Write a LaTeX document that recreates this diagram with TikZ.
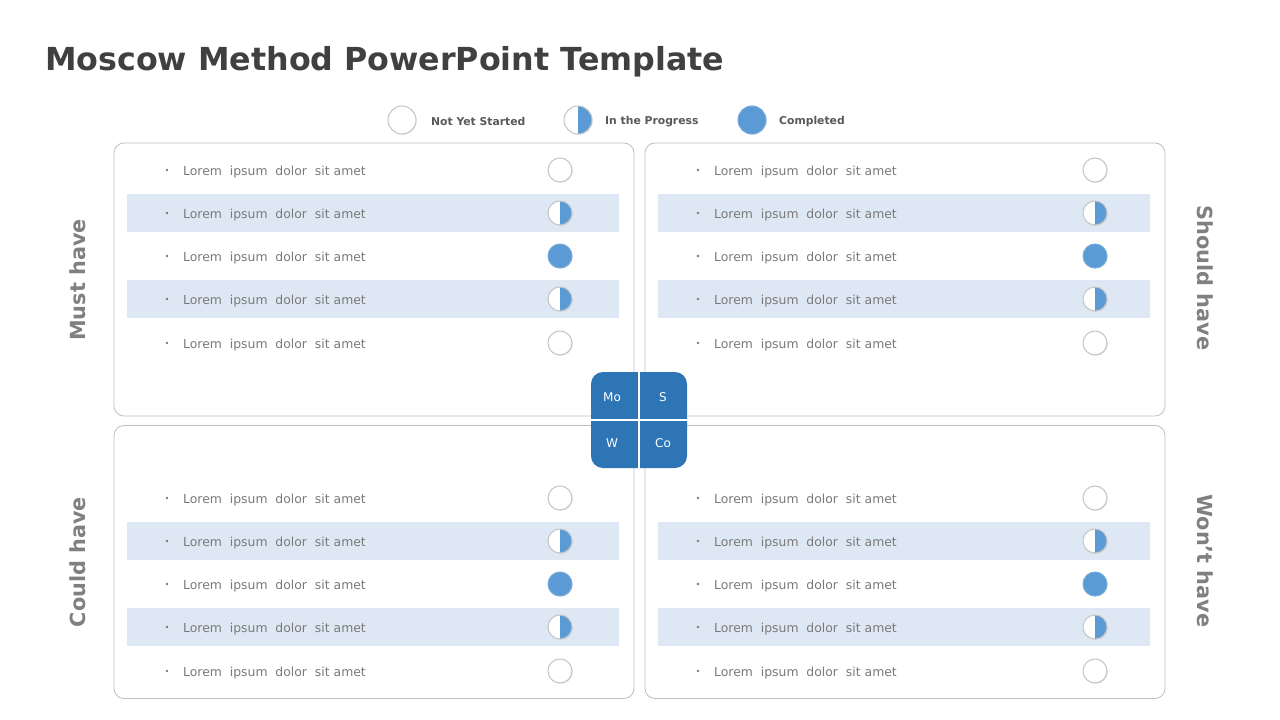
\documentclass[tikz,border=0pt]{standalone}
\usepackage{fontspec}
\setmainfont{DejaVu Sans}
\usetikzlibrary{shadows}
\definecolor{titlegray}{HTML}{404040}
\definecolor{legendgray}{HTML}{595959}
\definecolor{sidegray}{HTML}{808080}
\definecolor{textgray}{HTML}{7A7A7A}
\definecolor{bordergray}{HTML}{BFBFBF}
\definecolor{bandblue}{HTML}{DEE8F4}
\definecolor{statusblue}{HTML}{5B9BD5}
\definecolor{blockblue}{HTML}{2E75B6}
\definecolor{ringgray}{HTML}{C4C4C4}
\tikzset{
  quad/.style={draw=bordergray, line width=0.8pt, rounded corners=10pt, fill=white,
    minimum width=520pt, minimum height=273pt, inner sep=0pt},
  rowtext/.style={anchor=west, text=textgray, font=\fontsize{12.4}{14}\selectfont, inner sep=0pt},
  bulletdot/.style={circle, fill=textgray, minimum size=2.8pt, inner sep=0pt},
  statusbase/.style={circle, minimum size=24pt, inner sep=0pt,
    drop shadow={shadow xshift=0.7pt, shadow yshift=-0.7pt, fill=black, opacity=0.12}},
  stns/.style={statusbase, fill=white, draw=ringgray, line width=1pt},
  sthf/.style={statusbase, fill=white, draw=ringgray, line width=1pt,
    path picture={\fill[statusblue] (path picture bounding box.north) rectangle (path picture bounding box.south east);}},
  stcp/.style={statusbase, fill=statusblue, draw=statusblue!85!white, line width=1pt},
  legendtext/.style={anchor=west, text=legendgray, font=\bfseries\fontsize{10.8}{12}\selectfont, inner sep=0pt},
  sidelabel/.style={text=sidegray, font=\bfseries\fontsize{20.8}{24}\selectfont, inner sep=0pt},
  blocktext/.style={text=white, font=\fontsize{12}{14}\selectfont, inner sep=0pt},
}
\begin{document}
\begin{tikzpicture}[x=1pt,y=-1pt]
\useasboundingbox (0,0) rectangle (1280,720);
\fill[white] (0,0) rectangle (1280,720);

% title
\node[anchor=west, text=titlegray, font=\bfseries\fontsize{31.7}{36}\selectfont, inner sep=0pt] (title) at (45,61.5) {Moscow Method PowerPoint Template};

% legend
\node[stns, minimum size=28pt] (lg1) at (402,120) {};
\node[legendtext] (lt1) at (431,121.5) {Not Yet Started};
\node[sthf, minimum size=28pt] (lg2) at (578,120) {};
\node[legendtext] (lt2) at (605,121.5) {In the Progress};
\node[stcp, minimum size=28pt] (lg3) at (752,120) {};
\node[legendtext] (lt3) at (779,121.5) {Completed};

% quadrant boxes
\node[quad] (qa) at (374,279.5) {};
\node[quad] (qb) at (905,279.5) {};
\node[quad] (qc) at (374,562) {};
\node[quad] (qd) at (905,562) {};

% rows
\foreach \qx/\qy/\cx/\q in {0/0/560/a, 531/0/1095/b, 0/328/560/c, 531/328/1095/d}{
  \foreach \y/\st/\band/\i in {170/ns/0/1, 213/hf/1/2, 256/cp/0/3, 299/hf/1/4, 343/ns/0/5}{
    \ifnum\band=1
      \fill[bandblue] ({127+\qx},{\y+\qy-19}) rectangle ({619+\qx},{\y+\qy+19});
    \fi
    \node[bulletdot] (b-\q-\i) at ({167+\qx},{\y+\qy}) {};
    \node[rowtext] (t-\q-\i) at ({183+\qx},{\y+\qy+2.2}) {Lorem\ \ ipsum\ \ dolor\ \ sit amet};
    \node[st\st] (s-\q-\i) at (\cx,{\y+\qy}) {};
  }
}

% side labels
\node[sidelabel, rotate=90] (must) at (78,280) {Must have};
\node[sidelabel, rotate=-90] (should) at (1205,278) {Should have};
\node[sidelabel, rotate=90] (could) at (78,562) {Could have};
\node[sidelabel, rotate=-90] (wont) at (1205,561) {Won’t have};

% center block
\node[fill=blockblue, rounded corners=12pt, minimum width=96pt, minimum height=96pt, inner sep=0pt] (block) at (639,420) {};
\draw[white, line width=1.2pt] (block.north) -- (block.south);
\draw[white, line width=1.2pt] (block.west) -- (block.east);
\node[blocktext] (mo) at (612,397) {Mo};
\node[blocktext] (s) at (663,397) {S};
\node[blocktext] (w) at (612,443) {W};
\node[blocktext] (co) at (663,443) {Co};
\end{tikzpicture}
\end{document}
